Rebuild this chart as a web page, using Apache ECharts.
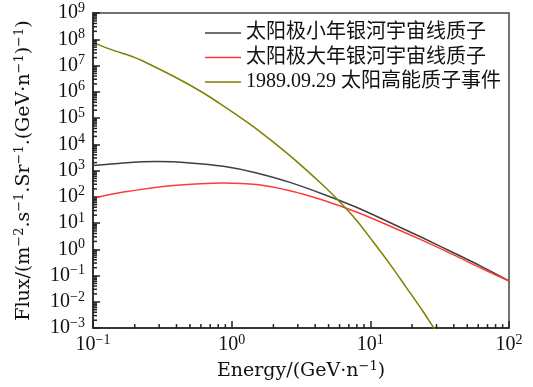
<!DOCTYPE html>
<html><head><meta charset="utf-8">
<script src="https://cdn.jsdelivr.net/npm/echarts@6/dist/echarts.min.js"></script>
<style>html,body{margin:0;padding:0;background:#fff}#c{width:533px;height:387px}</style>
</head><body><div id="c"></div>
<script>
const seriesNames = ['太阳极小年银河宇宙线质子', '太阳极大年银河宇宙线质子', '1989.09.29 太阳高能质子事件'];
const seriesColors = ['#3f3f3f', '#ff3a3a', '#7f7f00'];

const minEnergy = [0.1, 0.166, 0.288, 0.501, 0.871, 1.514, 2.63, 4.58, 7.94, 13.8, 24.0, 39.8, 63.1, 100];
const minFlux   = [1549, 1950, 2188, 1950, 1445, 813, 355, 126, 39.8, 10.5, 2.69, 0.741, 0.224, 0.063];

const maxEnergy = [0.1, 0.166, 0.38, 0.871, 1.514, 2.63, 4.58, 7.94, 13.8, 24.0, 39.8, 63.1, 100];
const maxFlux   = [89, 151, 269, 339, 295, 170, 74, 26.3, 7.76, 2.14, 0.617, 0.19, 0.062];

const sepEnergy = [0.1, 0.1327, 0.201, 0.2307, 0.38, 0.592, 0.871, 1.514, 2.63, 4.58, 5.87, 7.94, 10.47, 13.8, 18.2, 24.0, 28.4, 31.6];
const sepFlux   = [7.6e7, 4.2e7, 2.0e7, 1.45e7, 3.9e6, 1.07e6, 2.9e5, 3.8e4, 3700, 270, 74, 12.9, 1.95, 0.28, 0.035, 0.0043, 0.0011, 0.00049];

const xMin = 0.1, xMax = 100, yMin = 1e-3, yMax = 1e9;

const xMinorTicks = [];
for (let k = -1; k < 2; k++) for (let m = 2; m <= 9; m++) xMinorTicks.push(m * Math.pow(10, k));
const yMinorTicks = [];
for (let k = -3; k < 9; k++) for (let m = 2; m <= 9; m++) yMinorTicks.push(m * Math.pow(10, k));

const FONT = "'Liberation Serif', 'Noto Sans CJK SC', serif";
const NAMEFONT = "'DejaVu Serif', 'Liberation Serif', serif";
const TXT = '#111';
const AX = '#222';

function supLabel(v) {
  const e = Math.round(Math.log10(v));
  const s = e < 0 ? '−' + (-e) : String(e);
  return '{b|10}{e|' + s + '}';
}
const labelRich = {
  b: { fontSize: 20, fontFamily: FONT, color: TXT, lineHeight: 24 },
  e: { fontSize: 14, fontFamily: FONT, color: TXT, lineHeight: 14, verticalAlign: 'top' }
};
const nameRich = { s: { fontSize: 13, fontFamily: NAMEFONT, color: TXT, lineHeight: 13, verticalAlign: 'top' } };

function zip(xs, ys) { return xs.map((x, i) => [x, ys[i]]); }

const chart = echarts.init(document.getElementById('c'), null, { renderer: 'canvas' });
chart.setOption({
  animation: false,
  backgroundColor: '#fff',
  grid: { left: 93, right: 24, top: 13, bottom: 57, show: true, borderColor: '#444', borderWidth: 1.5, backgroundColor: 'transparent' },
  legend: {
    data: seriesNames,
    orient: 'vertical',
    left: 205, top: 23,
    padding: 0,
    itemWidth: 36, itemHeight: 1.5,
    itemGap: 4.5,
    icon: 'rect',
    textStyle: { fontSize: 20, fontFamily: FONT, color: TXT, lineHeight: 20 }
  },
  xAxis: {
    type: 'log', logBase: 10, min: xMin, max: xMax, interval: 1,
    axisLine: { show: true, onZero: false, lineStyle: { color: AX, width: 1.5 } },
    axisTick: { show: true, inside: true, length: 7, lineStyle: { color: AX, width: 1.5 } },
    splitLine: { show: false },
    axisLabel: { margin: 5, formatter: supLabel, rich: labelRich, interval: 0, showMinLabel: true, showMaxLabel: true },
    name: 'Energy/(GeV·n{s|−1})',
    nameLocation: 'middle', nameGap: 31,
    nameTextStyle: { fontSize: 19, fontFamily: NAMEFONT, color: TXT, lineHeight: 22, rich: nameRich }
  },
  yAxis: {
    type: 'log', logBase: 10, min: yMin, max: yMax, interval: 1,
    axisLine: { show: true, onZero: false, lineStyle: { color: AX, width: 1.5 } },
    axisTick: { show: true, inside: true, length: 7, lineStyle: { color: AX, width: 1.5 } },
    splitLine: { show: false },
    axisLabel: { margin: 8, formatter: supLabel, rich: labelRich, interval: 0, showMinLabel: true, showMaxLabel: true },
    name: 'Flux/(m{s|−2}.s{s|−1}.Sr{s|−1}.(GeV·n{s|−1}){s|−1})',
    nameLocation: 'middle', nameGap: 58, nameRotate: 90,
    nameTextStyle: { fontSize: 19, fontFamily: NAMEFONT, color: TXT, lineHeight: 22, rich: nameRich }
  },
  series: [
    { name: seriesNames[0], type: 'line', data: zip(minEnergy, minFlux), smooth: 0.3, symbol: 'none', color: seriesColors[0], lineStyle: { width: 1.5 }, z: 3 },
    { name: seriesNames[1], type: 'line', data: zip(maxEnergy, maxFlux), smooth: 0.3, symbol: 'none', color: seriesColors[1], lineStyle: { width: 1.5 }, z: 3 },
    { name: seriesNames[2], type: 'line', data: zip(sepEnergy, sepFlux), smooth: 0.3, symbol: 'none', color: seriesColors[2], lineStyle: { width: 1.5 }, z: 4 },
    { name: 'xminor', type: 'scatter', silent: true, clip: false, z: 10,
      data: xMinorTicks.map(v => [v, yMin]),
      symbol: 'rect', symbolSize: [1.5, 4], symbolOffset: [0, -2],
      itemStyle: { color: AX, opacity: 1 }, emphasis: { disabled: true } },
    { name: 'yminor', type: 'scatter', silent: true, clip: false, z: 10,
      data: yMinorTicks.map(v => [xMin, v]),
      symbol: 'rect', symbolSize: [4, 1.5], symbolOffset: [2, 0],
      itemStyle: { color: AX, opacity: 1 }, emphasis: { disabled: true } }
  ]
});
</script></body></html>
